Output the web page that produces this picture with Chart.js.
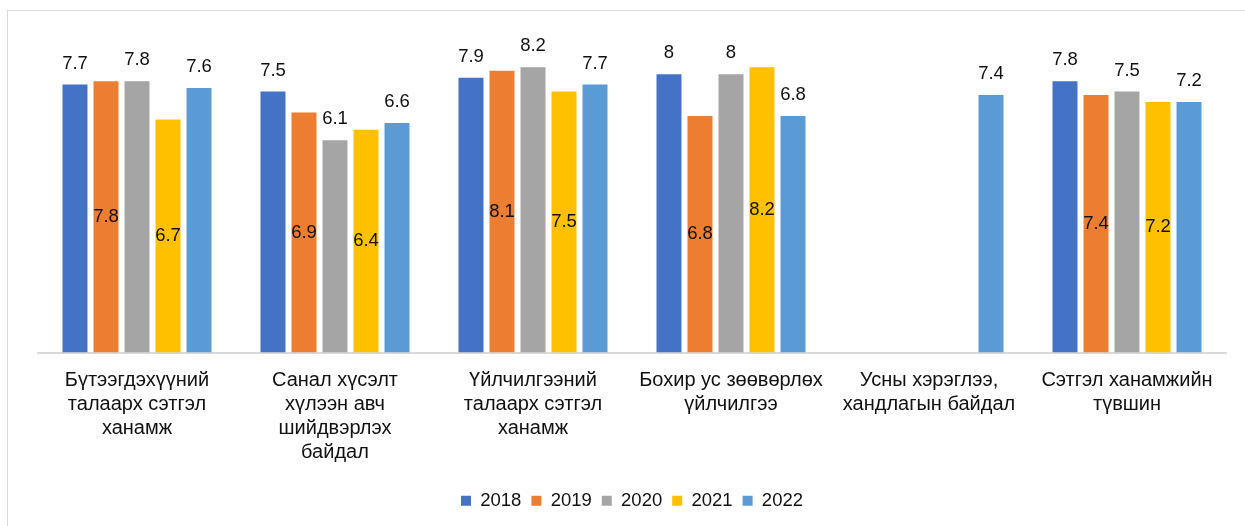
<!DOCTYPE html>
<html lang="mn">
<head>
<meta charset="utf-8">
<title>Сэтгэл ханамж 2018–2022</title>
<script src="https://cdn.jsdelivr.net/npm/chart.js@4.4.1/dist/chart.umd.min.js"></script>
<style>
  html, body { margin: 0; padding: 0; background: #ffffff; }
  #wrap { width: 1245px; height: 526px; position: relative; }
  canvas { display: block; }
</style>
</head>
<body>
<div id="wrap"><canvas id="chart" width="1245" height="526"></canvas></div>
<script>
// Survey categories (multi-line axis labels)
const categories = [
  ["Бүтээгдэхүүний", "талаарх сэтгэл", "ханамж"],
  ["Санал хүсэлт", "хүлээн авч", "шийдвэрлэх", "байдал"],
  ["Үйлчилгээний", "талаарх сэтгэл", "ханамж"],
  ["Бохир ус зөөвөрлөх", "үйлчилгээ"],
  ["Усны хэрэглээ,", "хандлагын байдал"],
  ["Сэтгэл ханамжийн", "түвшин"]
];

const years = ["2018", "2019", "2020", "2021", "2022"];

// Scores per year
const s2018 = [7.7, 7.5, 7.9, 8.0, null, 7.8];
const s2019 = [7.8, 6.9, 8.1, 6.8, null, 7.4];
const s2020 = [7.8, 6.1, 8.2, 8.0, null, 7.5];
const s2021 = [6.7, 6.4, 7.5, 8.2, null, 7.2];
const s2022 = [7.6, 6.6, 7.7, 6.8, 7.4, 7.2];

const seriesValues = [s2018, s2019, s2020, s2021, s2022];
const seriesColors = ["#4472C4", "#ED7D31", "#A5A5A5", "#FFC000", "#5B9BD5"];
// Series whose value labels sit in the middle of the bar
const insideLabelSeries = ["2019", "2021"];

const FONT_FAMILY = "'Liberation Sans', Arial, sans-serif";
const TEXT_COLOR = "#111111";
const FONT_SIZE = 18.5;
const CATEGORY_FONT_SIZE = 20;

// Light frame around the whole chart
const framePlugin = {
  id: "frame",
  beforeDraw(chart) {
    const ctx = chart.ctx;
    ctx.save();
    ctx.fillStyle = "#ffffff";
    ctx.fillRect(0, 0, chart.width, chart.height);
    ctx.strokeStyle = "#d9d9d9";
    ctx.lineWidth = 1;
    ctx.strokeRect(7.5, 10.5, chart.width + 20, chart.height + 20);
    ctx.restore();
  }
};

// Value labels: above the bar, or centred inside for selected years
const valueLabelPlugin = {
  id: "valueLabels",
  afterDatasetsDraw(chart) {
    const ctx = chart.ctx;
    ctx.save();
    ctx.font = FONT_SIZE + "px " + FONT_FAMILY;
    ctx.fillStyle = TEXT_COLOR;
    ctx.textAlign = "center";
    ctx.textBaseline = "middle";
    chart.data.datasets.forEach((ds, di) => {
      const meta = chart.getDatasetMeta(di);
      if (meta.hidden) return;
      const inside = insideLabelSeries.includes(ds.label);
      meta.data.forEach((bar, i) => {
        const v = ds.data[i];
        if (v === null || v === undefined) return;
        const text = String(v);
        const y = inside ? (bar.y + bar.base) / 2 : bar.y - 21;
        ctx.fillText(text, bar.x, y);
      });
    });
    ctx.restore();
  }
};

const datasets = years.map((y, i) => ({
  label: y,
  data: seriesValues[i],
  backgroundColor: seriesColors[i],
  borderWidth: 0,
  categoryPercentage: 0.783,
  barPercentage: 0.806
}));

new Chart(document.getElementById("chart"), {
  type: "bar",
  data: { labels: categories, datasets },
  plugins: [framePlugin, valueLabelPlugin],
  options: {
    responsive: false,
    devicePixelRatio: 1,
    animation: false,
    layout: { padding: { left: 38, right: 19, top: 22, bottom: 6 } },
    plugins: {
      legend: {
        position: "bottom",
        labels: {
          boxWidth: 10,
          boxHeight: 10,
          padding: 10,
          color: TEXT_COLOR,
          font: { family: FONT_FAMILY, size: FONT_SIZE }
        }
      },
      tooltip: { enabled: false }
    },
    scales: {
      x: {
        grid: { display: false, drawTicks: false, tickLength: 0 },
        border: { display: true, color: "#d9d9d9", width: 2 },
        ticks: {
          color: TEXT_COLOR,
          padding: 16,
          maxRotation: 0,
          autoSkip: false,
          font: { family: FONT_FAMILY, size: CATEGORY_FONT_SIZE, lineHeight: "24px" }
        },
        afterFit(scale) { scale.height = 129; }
      },
      y: {
        display: false,
        min: 0,
        max: 9.5
      }
    }
  }
});
</script>
</body>
</html>
